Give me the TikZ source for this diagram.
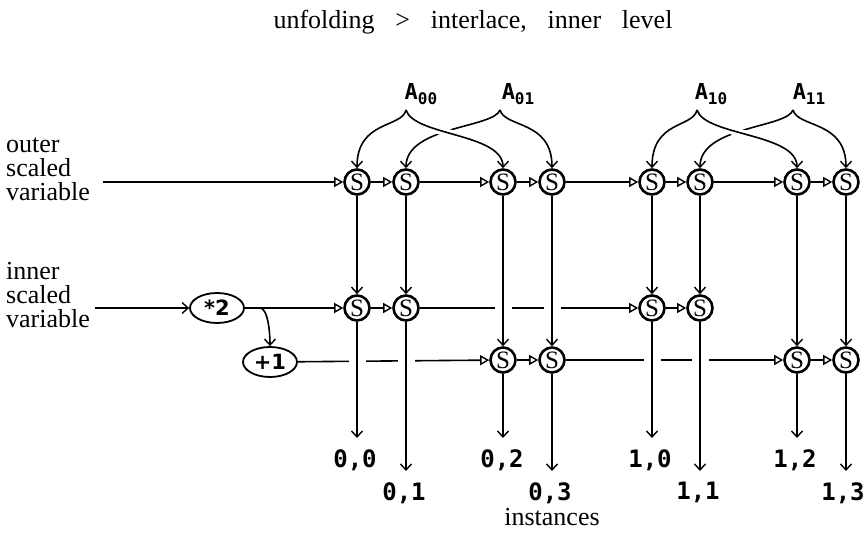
\documentclass[tikz,border=0pt]{standalone}
\usepackage{fontspec}
\setmainfont{Liberation Serif}
\newfontfamily\lblfont{DejaVu Sans Mono}
\newfontfamily\opfont{DejaVu Sans}
\usetikzlibrary{arrows.meta, shapes.geometric, calc}
\pgfdeclarelayer{background}
\pgfsetlayers{background,main}
\newcommand{\wsp}{\hspace{0.8em}}

\tikzset{
  snode/.style={circle, draw, line width=2.6pt, fill=white, minimum size=25pt, inner sep=0pt, font=\fontsize{25}{25}\selectfont},
  opnode/.style={ellipse, draw, line width=1.8pt, fill=white, minimum width=54pt, minimum height=30pt, inner sep=0pt, font=\opfont\bfseries\fontsize{21}{21}\selectfont},
  flow/.style={line width=1.6pt, -{Triangle[open, length=9pt, width=10pt, line width=1.4pt]}},
  feed/.style={line width=1.6pt, -{Straight Barb[length=6pt, width=11pt, line width=1.4pt]}},
  over/.style={preaction={draw=white, line width=8pt, -}},
  cross/.style={preaction={draw=white, line width=17pt, -}},
  inst/.style={font=\lblfont\bfseries\fontsize{24}{24}\selectfont, inner sep=0pt, anchor=north},
  alabel/.style={font=\lblfont\bfseries\fontsize{22}{22}\selectfont, inner sep=0pt},
  txt/.style={font=\fontsize{26}{24}\selectfont, align=left, anchor=west, inner sep=0pt},
}

\begin{document}
\begin{tikzpicture}[x=1pt, y=-1pt]
  \useasboundingbox (0,0) rectangle (865,534);

  % titles and side texts
  \node[font=\fontsize{26}{26}\selectfont, inner sep=0pt] (title) at (473,22) {unfolding\wsp >\wsp interlace,\wsp inner\wsp level};
  \node[txt] (outtxt) at (6,169) {outer\\scaled\\variable};
  \node[txt] (intxt) at (6,295) {inner\\scaled\\variable};
  \node[font=\fontsize{26}{26}\selectfont, inner sep=0pt] (insts) at (552,517) {instances};

  % scaled nodes
  \foreach \n/\x in {1/357,2/406,3/503,4/552,5/652,6/700,7/797,8/846}
    \node[snode] (o\n) at (\x,182) {S};
  \foreach \n/\x in {1/357,2/406,5/652,6/700}
    \node[snode] (e\n) at (\x,308) {S};
  \foreach \n/\x in {3/503,4/552,7/797,8/846}
    \node[snode] (d\n) at (\x,360) {S};

  \node[opnode] (dbl) at (217,308) {*2};
  \node[opnode] (inc) at (270,362) {+1};

  % access labels
  \node[alabel] (a00) at (421,94) {A\raisebox{-5pt}{\fontsize{16}{16}\selectfont 00}};
  \node[alabel] (a01) at (518,94) {A\raisebox{-5pt}{\fontsize{16}{16}\selectfont 01}};
  \node[alabel] (a10) at (711,94) {A\raisebox{-5pt}{\fontsize{16}{16}\selectfont 10}};
  \node[alabel] (a11) at (809,94) {A\raisebox{-5pt}{\fontsize{16}{16}\selectfont 11}};
  \coordinate (k00) at (406,110);
  \coordinate (k01) at (500,110);
  \coordinate (k10) at (697,110);
  \coordinate (k11) at (793,110);

  % instance labels
  \foreach \n/\x/\y/\t in {1/355/449/{0,0},2/404/482/{0,1},3/502/449/{0,2},4/550/482/{0,3},
                            5/650/449/{1,0},6/698/482/{1,1},7/795/449/{1,2},8/843/482/{1,3}}
    \node[inst] (l\n) at (\x,\y) {\t};

  \coordinate (oin) at (103,182);
  \coordinate (iin) at (95,308);

  \begin{pgfonlayer}{background}
    % horizontal chains
    \draw[flow] (oin) -- (o1);
    \foreach \a/\b in {1/2,2/3,3/4,4/5,5/6,6/7,7/8}
      \draw[flow] (o\a) -- (o\b);
    \draw[feed] (iin) -- (dbl);
    \draw[flow] (dbl) -- (e1);
    \draw[feed] (dbl.east) -- ++(15,0) .. controls +(8,0) and +(0,-14) .. (inc.north);
    \draw[flow] (e1) -- (e2);
    \draw[flow] (e2) -- (e5);
    \draw[flow] (e5) -- (e6);
    \draw[flow] (inc) -- (d3);
    \draw[flow] (d3) -- (d4);
    \draw[flow] (d4) -- (d7);
    \draw[flow] (d7) -- (d8);

    % columns
    \foreach \c in {1,2,5,6}
      \draw[feed] (o\c) -- (e\c);
    \foreach \c in {3,4,7,8}
      \draw[feed, cross] (o\c) -- (d\c);
    \foreach \r/\c in {e/1,e/2,d/3,d/4,e/5,e/6,d/7,d/8}
      \draw[feed, cross, shorten >=11pt] (\r\c) -- (\r\c |- l\c.north);

    % access curves
    \draw[feed] (k01) .. controls +(-6,18) and +(0,-42) .. (o2.north);
    \draw[feed] (k01) .. controls +(5,18) and +(0,-48) .. (o4.north);
    \draw[feed, over] (k00) .. controls +(8,26) and +(0,-35) .. (o3.north);
    \draw[feed] (k00) .. controls +(-4,18) and +(0,-48) .. (o1.north);
    \draw[feed] (k11) .. controls +(-6,18) and +(0,-42) .. (o6.north);
    \draw[feed] (k11) .. controls +(5,18) and +(0,-48) .. (o8.north);
    \draw[feed, over] (k10) .. controls +(8,26) and +(0,-35) .. (o7.north);
    \draw[feed] (k10) .. controls +(-4,18) and +(0,-48) .. (o5.north);
  \end{pgfonlayer}
\end{tikzpicture}
\end{document}
